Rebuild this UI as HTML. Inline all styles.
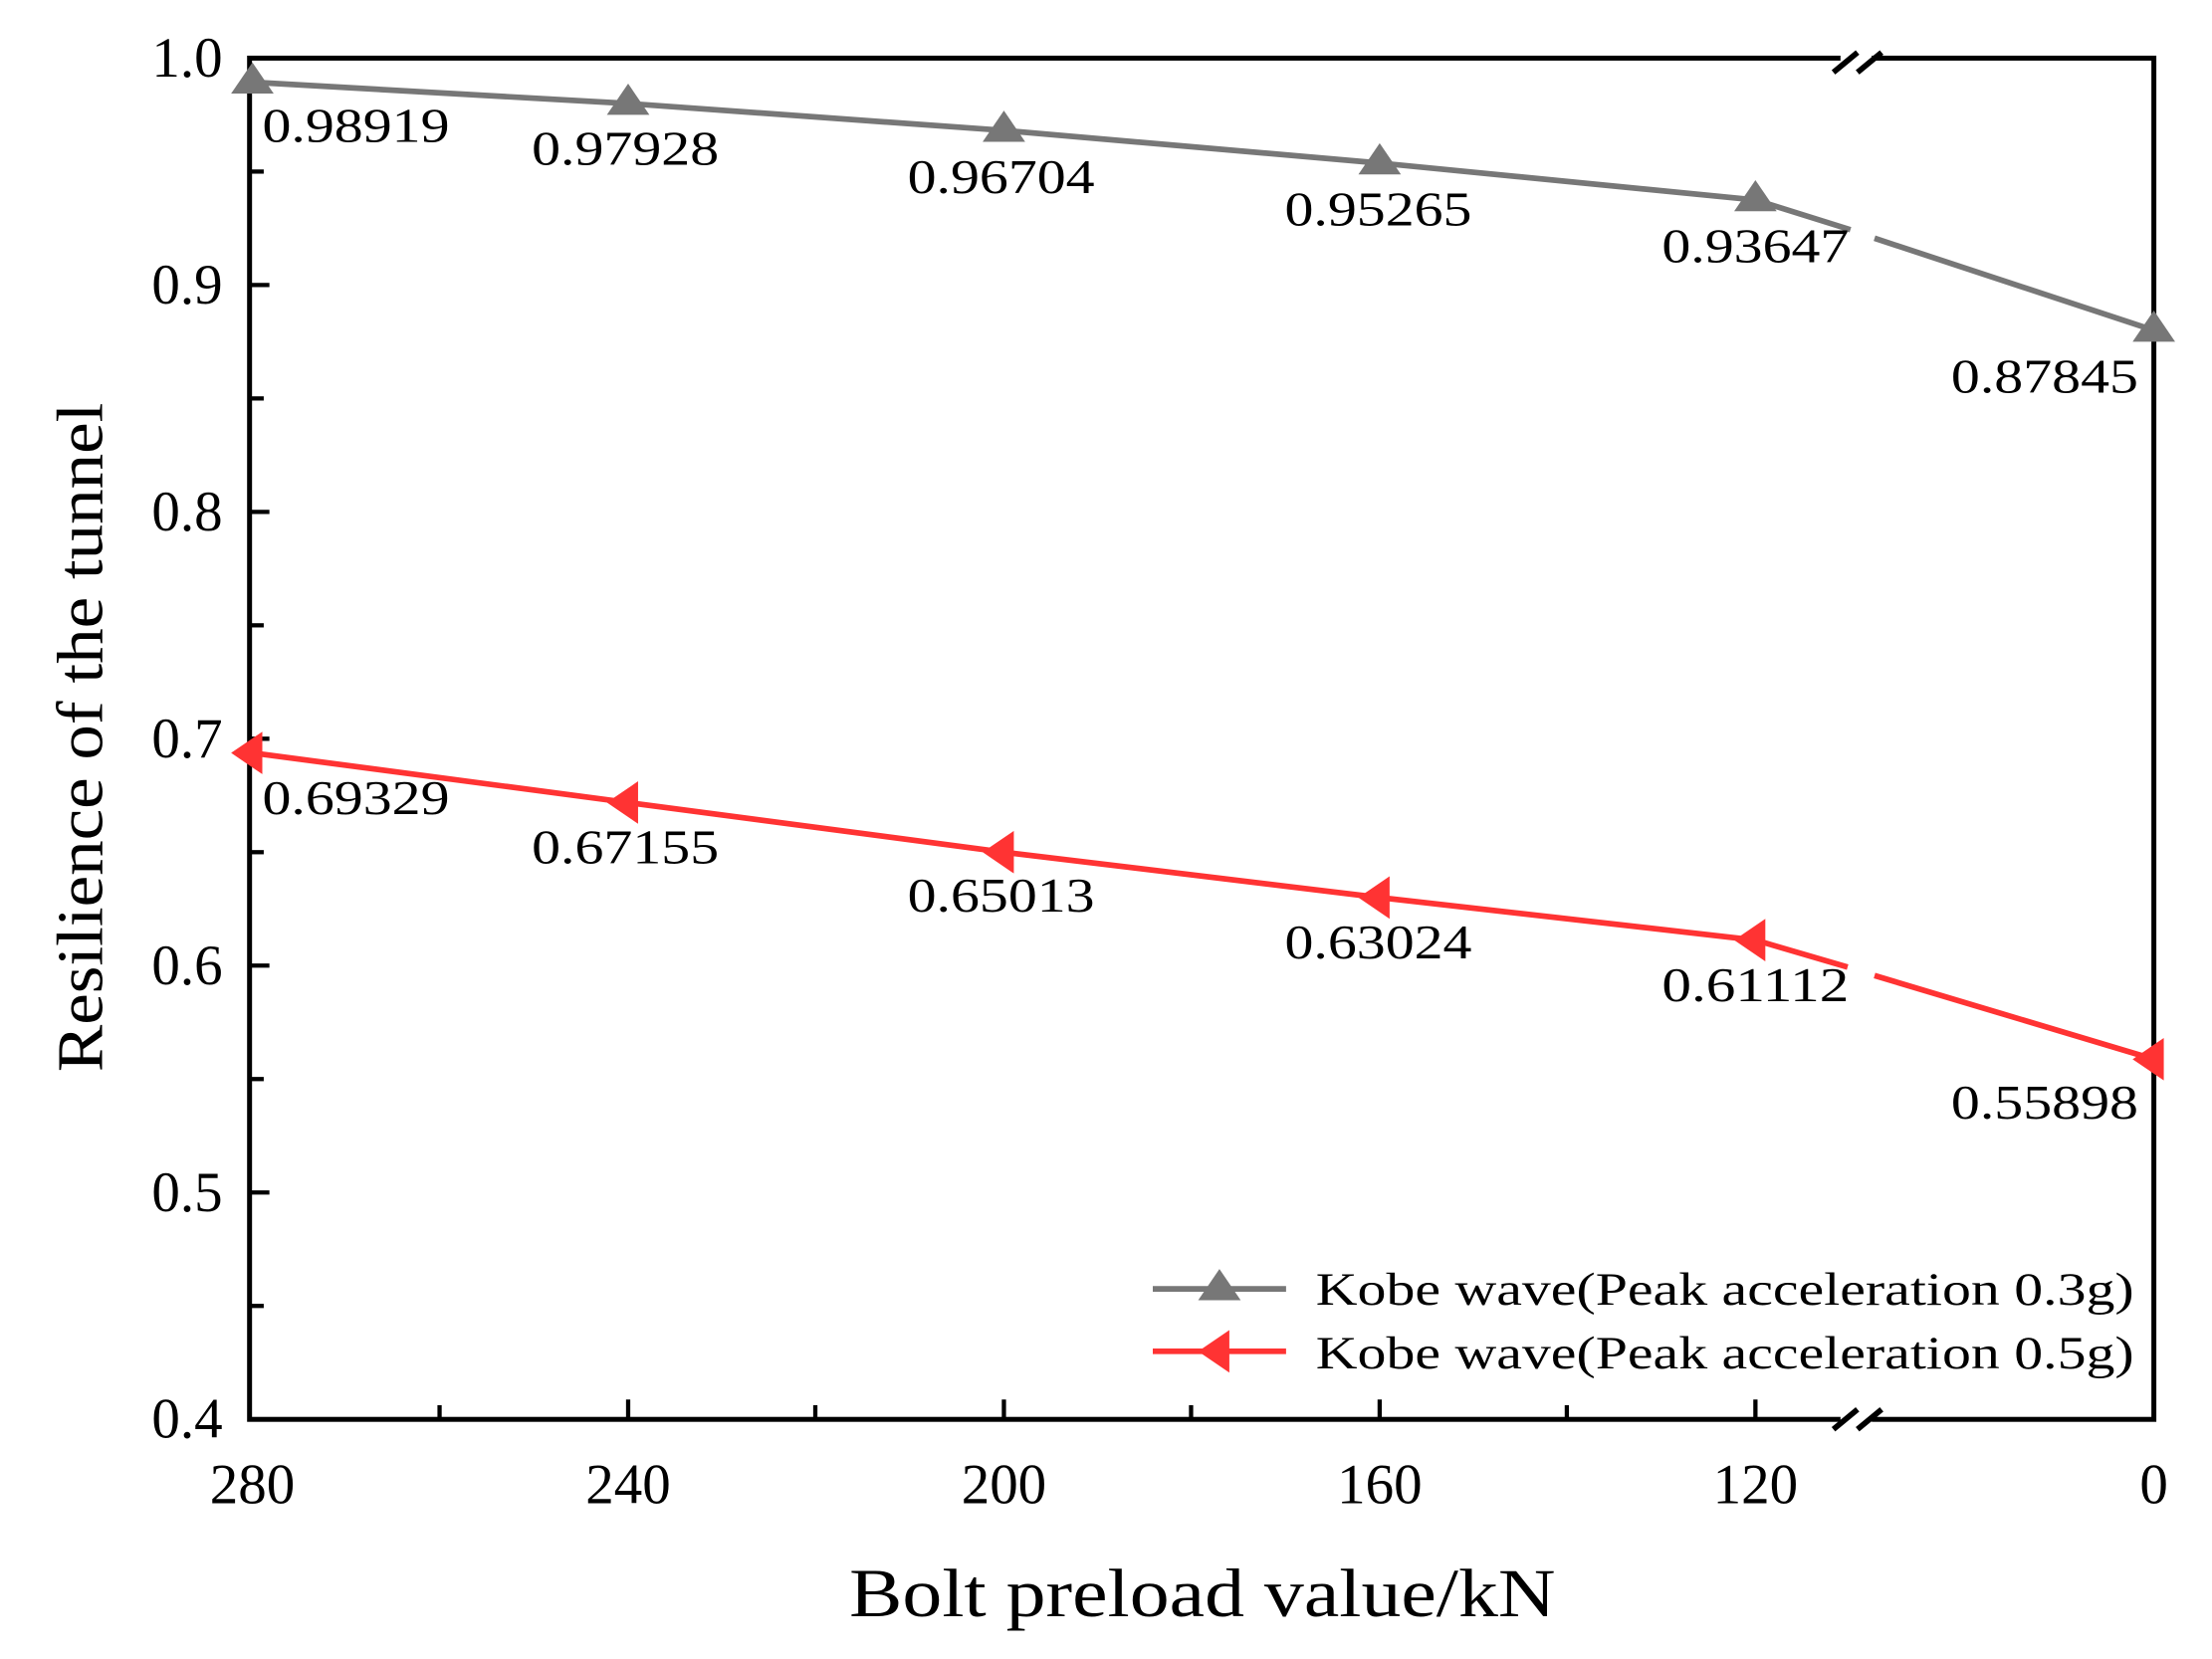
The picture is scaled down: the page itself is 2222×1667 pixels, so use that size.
<!DOCTYPE html>
<html><head><meta charset="utf-8"><style>
html,body{margin:0;padding:0;background:#fff;}
svg{display:block;}
text{font-family:"Liberation Serif",serif;fill:#000;}
</style></head><body>
<svg width="2222" height="1667" viewBox="0 0 1560 1170" preserveAspectRatio="none" xmlns="http://www.w3.org/2000/svg">
<rect x="176" y="41" width="1343" height="960" fill="none" stroke="#000" stroke-width="3.5"/>
<rect x="1298" y="34" width="22" height="14" fill="#fff"/>
<rect x="1298" y="994" width="22" height="14" fill="#fff"/>
<g stroke="#000" stroke-width="4">
<line x1="1293" y1="51" x2="1310" y2="37"/><line x1="1310" y1="51" x2="1327" y2="37"/>
<line x1="1293" y1="1008" x2="1310" y2="994"/><line x1="1310" y1="1008" x2="1327" y2="994"/>
</g>
<g stroke="#000" stroke-width="3">
<line x1="176" y1="201" x2="190" y2="201"/><line x1="176" y1="361" x2="190" y2="361"/><line x1="176" y1="521" x2="190" y2="521"/><line x1="176" y1="681" x2="190" y2="681"/><line x1="176" y1="841" x2="190" y2="841"/>
<line x1="176" y1="121" x2="186" y2="121"/><line x1="176" y1="281" x2="186" y2="281"/><line x1="176" y1="441" x2="186" y2="441"/><line x1="176" y1="601" x2="186" y2="601"/><line x1="176" y1="761" x2="186" y2="761"/><line x1="176" y1="921" x2="186" y2="921"/>
<line x1="443" y1="1001" x2="443" y2="987"/><line x1="708" y1="1001" x2="708" y2="987"/><line x1="973" y1="1001" x2="973" y2="987"/><line x1="1238" y1="1001" x2="1238" y2="987"/>
<line x1="310" y1="1001" x2="310" y2="991"/><line x1="575" y1="1001" x2="575" y2="991"/><line x1="840" y1="1001" x2="840" y2="991"/><line x1="1105" y1="1001" x2="1105" y2="991"/>
</g>
<g font-size="40" text-anchor="end">
<text x="157" y="54">1.0</text><text x="157" y="214">0.9</text><text x="157" y="374">0.8</text><text x="157" y="534">0.7</text><text x="157" y="694">0.6</text><text x="157" y="854">0.5</text><text x="157" y="1014">0.4</text>
</g>
<g font-size="40" text-anchor="middle">
<text x="178" y="1060">280</text><text x="443" y="1060">240</text><text x="708" y="1060">200</text><text x="973" y="1060">160</text><text x="1238" y="1060">120</text><text x="1519" y="1060">0</text>
</g>
<text x="848" y="1140" font-size="48" text-anchor="middle" textLength="498" lengthAdjust="spacingAndGlyphs">Bolt preload value/kN</text>
<text transform="translate(72,520) rotate(-90)" font-size="46" text-anchor="middle" textLength="472" lengthAdjust="spacingAndGlyphs">Resilience of the tunnel</text>
<g stroke="#777" stroke-width="4" fill="none">
<polyline points="178,58 443,73 708,92 973,115 1238,141 1305,162"/>
<polyline points="1322,168 1519,233"/>
</g>
<g fill="#777">
<polygon points="178,44 163,66 193,66"/><polygon points="443,59 428,81 458,81"/><polygon points="708,78 693,100 723,100"/><polygon points="973,101 958,123 988,123"/><polygon points="1238,127 1223,149 1253,149"/><polygon points="1519,219 1504,241 1534,241"/>
</g>
<g stroke="#f33" stroke-width="4" fill="none">
<polyline points="178,531 443,566 708,601 973,633 1238,663 1303,682"/>
<polyline points="1322,688 1519,747"/>
</g>
<g fill="#f33">
<polygon points="163,531 185,516 185,546"/><polygon points="428,566 450,551 450,581"/><polygon points="693,601 715,586 715,616"/><polygon points="958,633 980,618 980,648"/><polygon points="1223,663 1245,648 1245,678"/><polygon points="1504,747 1526,732 1526,762"/>
</g>
<g font-size="34">
<text x="185" y="100" textLength="132" lengthAdjust="spacingAndGlyphs">0.98919</text>
<text x="375" y="116" textLength="132" lengthAdjust="spacingAndGlyphs">0.97928</text>
<text x="640" y="136" textLength="132" lengthAdjust="spacingAndGlyphs">0.96704</text>
<text x="906" y="159" textLength="132" lengthAdjust="spacingAndGlyphs">0.95265</text>
<text x="1172" y="185" textLength="132" lengthAdjust="spacingAndGlyphs">0.93647</text>
<text x="1376" y="277" textLength="132" lengthAdjust="spacingAndGlyphs">0.87845</text>
<text x="185" y="574" textLength="132" lengthAdjust="spacingAndGlyphs">0.69329</text>
<text x="375" y="609" textLength="132" lengthAdjust="spacingAndGlyphs">0.67155</text>
<text x="640" y="643" textLength="132" lengthAdjust="spacingAndGlyphs">0.65013</text>
<text x="906" y="676" textLength="132" lengthAdjust="spacingAndGlyphs">0.63024</text>
<text x="1172" y="706" textLength="132" lengthAdjust="spacingAndGlyphs">0.61112</text>
<text x="1376" y="789" textLength="132" lengthAdjust="spacingAndGlyphs">0.55898</text>
</g>
<line x1="813" y1="909" x2="907" y2="909" stroke="#777" stroke-width="4"/>
<polygon points="860,895 845,917 875,917" fill="#777"/>
<line x1="813" y1="953" x2="907" y2="953" stroke="#f33" stroke-width="4"/>
<polygon points="845,953 867,938 867,968" fill="#f33"/>
<g font-size="33">
<text x="928" y="920" textLength="577" lengthAdjust="spacingAndGlyphs">Kobe wave(Peak acceleration 0.3g)</text>
<text x="928" y="965" textLength="577" lengthAdjust="spacingAndGlyphs">Kobe wave(Peak acceleration 0.5g)</text>
</g>
</svg>
</body></html>
